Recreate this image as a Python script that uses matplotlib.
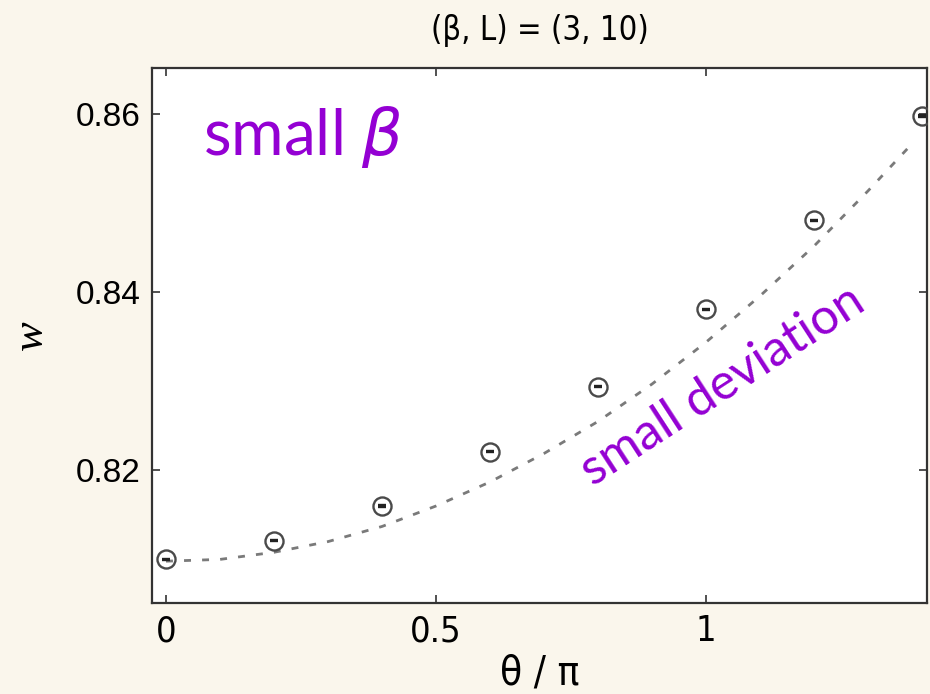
import numpy as np
import matplotlib.pyplot as plt
from matplotlib import font_manager

# measured points
theta = [0.0, 0.2, 0.4, 0.6, 0.8, 1.0, 1.2, 1.4]
w_data = [0.8100, 0.8121, 0.8160, 0.8221, 0.8294, 0.8381, 0.8481, 0.8598]
w_err = [0.00008] * 8

# dashed reference curve
theta_curve = [0.0, 0.1, 0.2, 0.3, 0.4, 0.5, 0.6, 0.7, 0.8, 0.9,
               1.0, 1.1, 1.2, 1.3, 1.38]
w_curve = [0.8098, 0.8100, 0.8108, 0.8120, 0.8137, 0.8160, 0.8187, 0.8219,
           0.8255, 0.8297, 0.8344, 0.8396, 0.8452, 0.8514, 0.8566]

xticks = [0, 0.5, 1]
xticklabels = ["0", "0.5", "1"]
yticks = [0.82, 0.84, 0.86]
yticklabels = ["0.82", "0.84", "0.86"]

bg = "#faf6ec"
purple = "#9400d3"
spine_col = "#333333"

# condensed face if there is one (tick labels on x and title look narrow)
names = {f.name for f in font_manager.fontManager.ttflist}
cond = [f for f in font_manager.fontManager.ttflist
        if 'condensed' in str(f.stretch) or 'Narrow' in f.name]
if 'Liberation Sans Narrow' in names:
    narrow = dict(family='Liberation Sans Narrow')
elif cond:
    narrow = dict(family=cond[0].name, stretch=cond[0].stretch)
else:
    narrow = dict(family='Liberation Sans')

plt.rcParams['mathtext.fontset'] = 'dejavusans'

fig = plt.figure(figsize=(9.3, 6.94), dpi=100, facecolor=bg)
ax = fig.add_axes([0.1634, 0.1311, 0.8333, 0.7709])
ax.set_facecolor("white")

ax.plot(theta_curve, w_curve, color="#7a7a7a", lw=2.0, dashes=(2.5, 4))
ax.errorbar(theta, w_data, yerr=w_err, fmt='o', ms=13, mfc='none',
            mec='#4a4a4a', mew=1.7, ecolor='#222222', elinewidth=1.5,
            capsize=3, capthick=2, zorder=3)

ax.set_xlim(-0.026, 1.409)
ax.set_ylim(0.8051, 0.8652)

ax.set_xticks(xticks)
ax.set_xticklabels(xticklabels, fontsize=26, **narrow)
ax.set_yticks(yticks)
ax.set_yticklabels(yticklabels, family='Liberation Sans', fontsize=24)
ax.tick_params(direction='in', length=6, width=1.2, color=spine_col,
               top=True, right=True, pad=8)
for s in ax.spines.values():
    s.set_linewidth(1.6)
    s.set_color(spine_col)

ax.set_xlabel(r"θ / π", fontsize=29, labelpad=4, **narrow)
ax.set_ylabel("w", family='Liberation Serif', style='italic', fontsize=32,
              labelpad=18)
ax.set_title("(β, L) = (3, 10)", fontsize=23.5, pad=20, **narrow)

ax.text(0.0685, 0.8554, r"small $\beta$", family='Lato', fontsize=46,
        color=purple, ha='left', va='baseline')
ax.text(0.79, 0.8181, "small deviation", family='Lato', fontsize=36,
        color=purple, ha='left', va='baseline', rotation=33,
        rotation_mode='anchor')

fig.savefig("out.png", dpi=100, facecolor=bg)
